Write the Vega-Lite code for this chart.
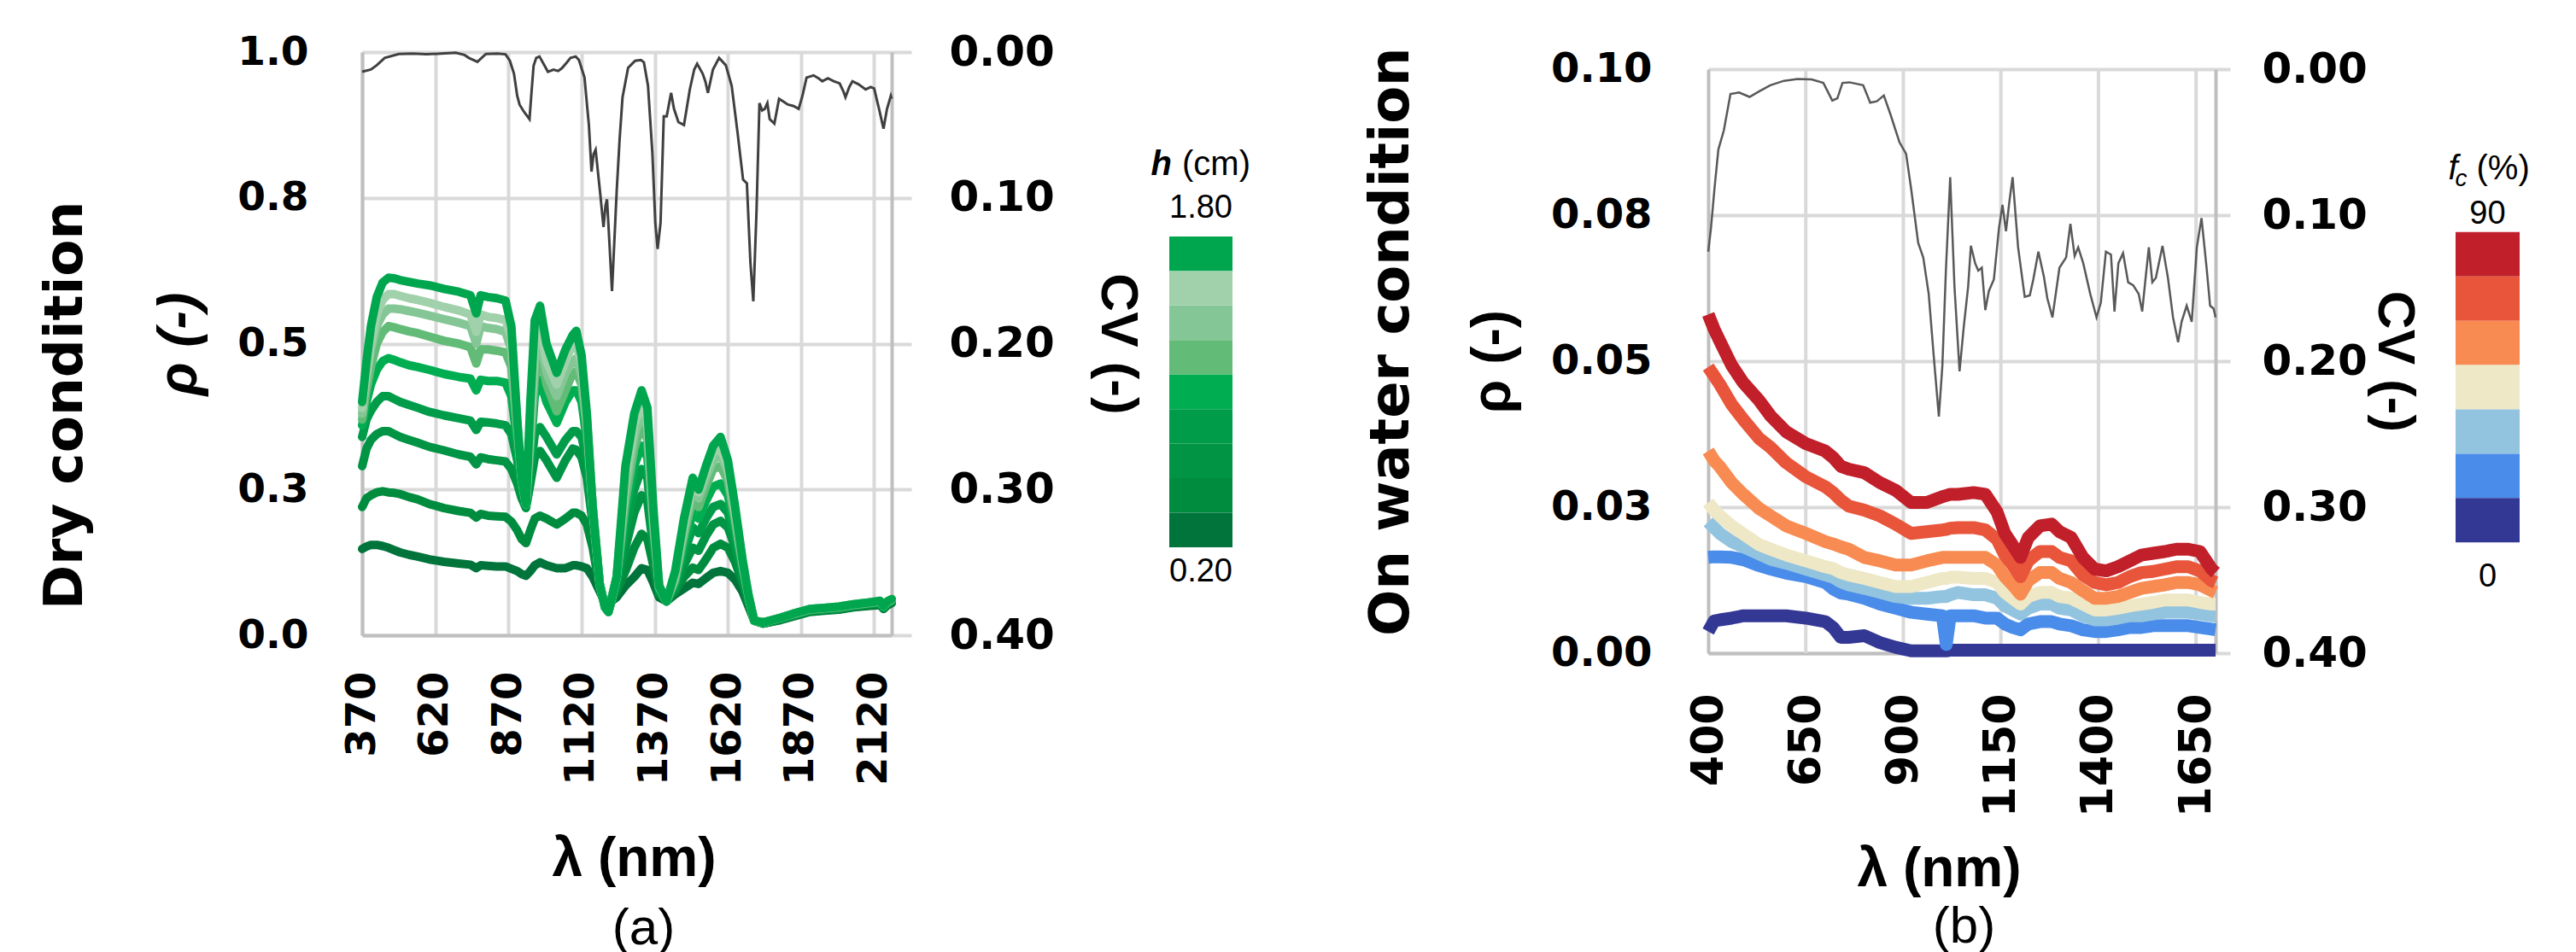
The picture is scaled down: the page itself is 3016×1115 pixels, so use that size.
{
"$schema": "https://vega.github.io/schema/vega-lite/v6.json",
"background": "white",
"padding": {"left": 45, "top": 36, "right": 0, "bottom": 0},
"autosize": {"type": "pad"},
"config": {
  "view": {"stroke": null},
  "axis": {"domainColor": "#BFBFBF", "domainWidth": 4, "gridColor": "#D9D9D9", "gridWidth": 4, "tickColor": "#D9D9D9", "tickWidth": 4,
           "labelFont": "DejaVu Sans", "labelFontWeight": "bold", "labelColor": "#000000", "labelFlush": false, "labelOverlap": false,
           "titleFont": "Liberation Sans", "titleFontWeight": "bold", "titleColor": "#000000"},
  "title": {"color": "#000000"}
},
"datasets": {
  "specA": [
    {"w":370,"a1":0.40,"a2":0.39,"a3":0.38,"a4":0.37,"a5":0.36,"a6":0.34,"a7":0.29,"a8":0.22,"a9":0.148},
    {"w":385,"a1":0.47,"a2":0.45,"a3":0.44,"a4":0.42,"a5":0.40,"a6":0.37,"a7":0.32,"a8":0.235,"a9":0.152},
    {"w":400,"a1":0.53,"a2":0.50,"a3":0.49,"a4":0.46,"a5":0.43,"a6":0.385,"a7":0.335,"a8":0.24,"a9":0.155},
    {"w":420,"a1":0.58,"a2":0.55,"a3":0.53,"a4":0.50,"a5":0.455,"a6":0.40,"a7":0.345,"a8":0.245,"a9":0.155},
    {"w":440,"a1":0.605,"a2":0.575,"a3":0.55,"a4":0.52,"a5":0.47,"a6":0.41,"a7":0.35,"a8":0.247,"a9":0.153},
    {"w":460,"a1":0.613,"a2":0.585,"a3":0.56,"a4":0.53,"a5":0.475,"a6":0.41,"a7":0.35,"a8":0.245,"a9":0.15},
    {"w":480,"a1":0.612,"a2":0.585,"a3":0.56,"a4":0.528,"a5":0.472,"a6":0.405,"a7":0.345,"a8":0.244,"a9":0.146},
    {"w":500,"a1":0.609,"a2":0.582,"a3":0.559,"a4":0.525,"a5":0.468,"a6":0.40,"a7":0.34,"a8":0.242,"a9":0.142},
    {"w":530,"a1":0.606,"a2":0.578,"a3":0.556,"a4":0.521,"a5":0.463,"a6":0.395,"a7":0.335,"a8":0.237,"a9":0.138},
    {"w":560,"a1":0.603,"a2":0.575,"a3":0.553,"a4":0.518,"a5":0.46,"a6":0.39,"a7":0.33,"a8":0.233,"a9":0.135},
    {"w":600,"a1":0.60,"a2":0.57,"a3":0.548,"a4":0.512,"a5":0.455,"a6":0.383,"a7":0.323,"a8":0.225,"a9":0.13},
    {"w":650,"a1":0.594,"a2":0.563,"a3":0.542,"a4":0.505,"a5":0.448,"a6":0.377,"a7":0.317,"a8":0.218,"a9":0.126},
    {"w":700,"a1":0.589,"a2":0.557,"a3":0.536,"a4":0.50,"a5":0.443,"a6":0.372,"a7":0.31,"a8":0.213,"a9":0.123},
    {"w":740,"a1":0.583,"a2":0.55,"a3":0.53,"a4":0.494,"a5":0.44,"a6":0.368,"a7":0.306,"a8":0.21,"a9":0.121},
    {"w":760,"a1":0.552,"a2":0.52,"a3":0.50,"a4":0.466,"a5":0.42,"a6":0.352,"a7":0.293,"a8":0.202,"a9":0.115},
    {"w":775,"a1":0.583,"a2":0.55,"a3":0.53,"a4":0.49,"a5":0.438,"a6":0.366,"a7":0.305,"a8":0.208,"a9":0.12},
    {"w":800,"a1":0.58,"a2":0.546,"a3":0.527,"a4":0.49,"a5":0.436,"a6":0.365,"a7":0.302,"a8":0.205,"a9":0.119},
    {"w":830,"a1":0.578,"a2":0.544,"a3":0.525,"a4":0.488,"a5":0.436,"a6":0.363,"a7":0.30,"a8":0.204,"a9":0.118},
    {"w":860,"a1":0.574,"a2":0.54,"a3":0.52,"a4":0.485,"a5":0.433,"a6":0.36,"a7":0.298,"a8":0.203,"a9":0.118},
    {"w":880,"a1":0.53,"a2":0.51,"a3":0.49,"a4":0.46,"a5":0.41,"a6":0.345,"a7":0.285,"a8":0.195,"a9":0.114},
    {"w":900,"a1":0.37,"a2":0.37,"a3":0.36,"a4":0.35,"a5":0.33,"a6":0.30,"a7":0.26,"a8":0.18,"a9":0.11},
    {"w":915,"a1":0.27,"a2":0.27,"a3":0.27,"a4":0.27,"a5":0.26,"a6":0.25,"a7":0.235,"a8":0.165,"a9":0.105},
    {"w":930,"a1":0.225,"a2":0.225,"a3":0.225,"a4":0.225,"a5":0.225,"a6":0.222,"a7":0.218,"a8":0.158,"a9":0.102},
    {"w":945,"a1":0.40,"a2":0.37,"a3":0.35,"a4":0.33,"a5":0.31,"a6":0.28,"a7":0.26,"a8":0.18,"a9":0.11},
    {"w":960,"a1":0.54,"a2":0.50,"a3":0.47,"a4":0.44,"a5":0.41,"a6":0.345,"a7":0.305,"a8":0.20,"a9":0.12},
    {"w":978,"a1":0.565,"a2":0.53,"a3":0.51,"a4":0.485,"a5":0.438,"a6":0.357,"a7":0.316,"a8":0.205,"a9":0.125},
    {"w":1000,"a1":0.50,"a2":0.47,"a3":0.45,"a4":0.43,"a5":0.40,"a6":0.34,"a7":0.30,"a8":0.20,"a9":0.12},
    {"w":1035,"a1":0.45,"a2":0.43,"a3":0.41,"a4":0.384,"a5":0.364,"a6":0.31,"a7":0.27,"a8":0.19,"a9":0.115},
    {"w":1065,"a1":0.49,"a2":0.47,"a3":0.45,"a4":0.42,"a5":0.40,"a6":0.335,"a7":0.30,"a8":0.20,"a9":0.115},
    {"w":1090,"a1":0.515,"a2":0.50,"a3":0.47,"a4":0.45,"a5":0.42,"a6":0.35,"a7":0.32,"a8":0.21,"a9":0.12},
    {"w":1102,"a1":0.522,"a2":0.50,"a3":0.475,"a4":0.452,"a5":0.42,"a6":0.35,"a7":0.318,"a8":0.21,"a9":0.12},
    {"w":1120,"a1":0.48,"a2":0.465,"a3":0.445,"a4":0.43,"a5":0.40,"a6":0.34,"a7":0.305,"a8":0.205,"a9":0.118},
    {"w":1138,"a1":0.38,"a2":0.375,"a3":0.365,"a4":0.355,"a5":0.335,"a6":0.30,"a7":0.27,"a8":0.19,"a9":0.115},
    {"w":1158,"a1":0.22,"a2":0.22,"a3":0.22,"a4":0.22,"a5":0.21,"a6":0.20,"a7":0.19,"a8":0.15,"a9":0.10},
    {"w":1182,"a1":0.088,"a2":0.088,"a3":0.088,"a4":0.088,"a5":0.088,"a6":0.088,"a7":0.085,"a8":0.08,"a9":0.075},
    {"w":1200,"a1":0.048,"a2":0.048,"a3":0.048,"a4":0.048,"a5":0.048,"a6":0.048,"a7":0.048,"a8":0.052,"a9":0.056},
    {"w":1212,"a1":0.04,"a2":0.04,"a3":0.04,"a4":0.04,"a5":0.04,"a6":0.04,"a7":0.042,"a8":0.048,"a9":0.055},
    {"w":1240,"a1":0.10,"a2":0.10,"a3":0.10,"a4":0.10,"a5":0.095,"a6":0.09,"a7":0.085,"a8":0.075,"a9":0.065},
    {"w":1270,"a1":0.29,"a2":0.27,"a3":0.25,"a4":0.23,"a5":0.21,"a6":0.18,"a7":0.15,"a8":0.11,"a9":0.085},
    {"w":1300,"a1":0.38,"a2":0.36,"a3":0.34,"a4":0.32,"a5":0.29,"a6":0.25,"a7":0.21,"a8":0.15,"a9":0.10},
    {"w":1325,"a1":0.42,"a2":0.40,"a3":0.385,"a4":0.36,"a5":0.325,"a6":0.285,"a7":0.24,"a8":0.174,"a9":0.115},
    {"w":1345,"a1":0.39,"a2":0.37,"a3":0.355,"a4":0.335,"a5":0.305,"a6":0.27,"a7":0.23,"a8":0.165,"a9":0.112},
    {"w":1365,"a1":0.22,"a2":0.21,"a3":0.20,"a4":0.19,"a5":0.18,"a6":0.165,"a7":0.15,"a8":0.12,"a9":0.09},
    {"w":1385,"a1":0.085,"a2":0.085,"a3":0.085,"a4":0.082,"a5":0.08,"a6":0.078,"a7":0.075,"a8":0.07,"a9":0.065},
    {"w":1410,"a1":0.058,"a2":0.058,"a3":0.058,"a4":0.058,"a5":0.058,"a6":0.058,"a7":0.058,"a8":0.058,"a9":0.058},
    {"w":1440,"a1":0.11,"a2":0.105,"a3":0.10,"a4":0.095,"a5":0.09,"a6":0.085,"a7":0.08,"a8":0.075,"a9":0.07},
    {"w":1470,"a1":0.20,"a2":0.19,"a3":0.18,"a4":0.17,"a5":0.155,"a6":0.14,"a7":0.12,"a8":0.10,"a9":0.08},
    {"w":1500,"a1":0.27,"a2":0.26,"a3":0.25,"a4":0.235,"a5":0.21,"a6":0.185,"a7":0.15,"a8":0.116,"a9":0.09},
    {"w":1520,"a1":0.25,"a2":0.245,"a3":0.235,"a4":0.22,"a5":0.20,"a6":0.175,"a7":0.145,"a8":0.112,"a9":0.088},
    {"w":1545,"a1":0.29,"a2":0.28,"a3":0.27,"a4":0.255,"a5":0.23,"a6":0.20,"a7":0.17,"a8":0.13,"a9":0.098},
    {"w":1570,"a1":0.325,"a2":0.315,"a3":0.30,"a4":0.285,"a5":0.255,"a6":0.22,"a7":0.19,"a8":0.15,"a9":0.107},
    {"w":1595,"a1":0.34,"a2":0.32,"a3":0.31,"a4":0.29,"a5":0.26,"a6":0.225,"a7":0.196,"a8":0.157,"a9":0.11},
    {"w":1620,"a1":0.30,"a2":0.29,"a3":0.28,"a4":0.265,"a5":0.24,"a6":0.21,"a7":0.185,"a8":0.15,"a9":0.107},
    {"w":1645,"a1":0.22,"a2":0.21,"a3":0.205,"a4":0.195,"a5":0.18,"a6":0.165,"a7":0.15,"a8":0.125,"a9":0.095},
    {"w":1670,"a1":0.13,"a2":0.13,"a3":0.125,"a4":0.12,"a5":0.115,"a6":0.11,"a7":0.10,"a8":0.09,"a9":0.075},
    {"w":1690,"a1":0.07,"a2":0.07,"a3":0.07,"a4":0.068,"a5":0.066,"a6":0.064,"a7":0.06,"a8":0.055,"a9":0.05},
    {"w":1710,"a1":0.025,"a2":0.025,"a3":0.025,"a4":0.025,"a5":0.025,"a6":0.025,"a7":0.025,"a8":0.025,"a9":0.025},
    {"w":1740,"a1":0.022,"a2":0.022,"a3":0.022,"a4":0.022,"a5":0.022,"a6":0.021,"a7":0.021,"a8":0.02,"a9":0.02},
    {"w":1800,"a1":0.03,"a2":0.03,"a3":0.03,"a4":0.03,"a5":0.03,"a6":0.029,"a7":0.028,"a8":0.027,"a9":0.026},
    {"w":1850,"a1":0.038,"a2":0.038,"a3":0.038,"a4":0.037,"a5":0.037,"a6":0.036,"a7":0.035,"a8":0.034,"a9":0.033},
    {"w":1900,"a1":0.045,"a2":0.045,"a3":0.045,"a4":0.044,"a5":0.044,"a6":0.043,"a7":0.042,"a8":0.041,"a9":0.04},
    {"w":1950,"a1":0.047,"a2":0.047,"a3":0.047,"a4":0.046,"a5":0.046,"a6":0.045,"a7":0.044,"a8":0.043,"a9":0.042},
    {"w":2000,"a1":0.049,"a2":0.049,"a3":0.049,"a4":0.048,"a5":0.048,"a6":0.047,"a7":0.046,"a8":0.045,"a9":0.044},
    {"w":2050,"a1":0.053,"a2":0.053,"a3":0.053,"a4":0.052,"a5":0.052,"a6":0.051,"a7":0.05,"a8":0.049,"a9":0.048},
    {"w":2100,"a1":0.056,"a2":0.056,"a3":0.056,"a4":0.055,"a5":0.055,"a6":0.054,"a7":0.053,"a8":0.052,"a9":0.05},
    {"w":2140,"a1":0.059,"a2":0.059,"a3":0.058,"a4":0.058,"a5":0.057,"a6":0.056,"a7":0.055,"a8":0.054,"a9":0.052},
    {"w":2152,"a1":0.05,"a2":0.05,"a3":0.05,"a4":0.05,"a5":0.049,"a6":0.048,"a7":0.047,"a8":0.046,"a9":0.045},
    {"w":2165,"a1":0.058,"a2":0.058,"a3":0.057,"a4":0.057,"a5":0.056,"a6":0.055,"a7":0.054,"a8":0.053,"a9":0.051},
    {"w":2180,"a1":0.062,"a2":0.062,"a3":0.061,"a4":0.061,"a5":0.06,"a6":0.059,"a7":0.058,"a8":0.057,"a9":0.055}
  ],
  "cvA": [
    {"w":370,"cv":0.0135},{"w":400,"cv":0.012},{"w":420,"cv":0.009},{"w":447,"cv":0.004},{"w":495,"cv":0.0013},{"w":543,"cv":0.001},{"w":590,"cv":0.0015},{"w":640,"cv":0.001},{"w":690,"cv":0.0005},{"w":720,"cv":0.002},{"w":735,"cv":0.004},{"w":764,"cv":0.0067},{"w":793,"cv":0.0013},{"w":832,"cv":0.001},{"w":860,"cv":0.0015},{"w":875,"cv":0.006},{"w":889,"cv":0.0148},{"w":900,"cv":0.03},{"w":908,"cv":0.036},{"w":920,"cv":0.04},{"w":927,"cv":0.042},{"w":942,"cv":0.046},{"w":948,"cv":0.03},{"w":956,"cv":0.0094},{"w":965,"cv":0.004},{"w":976,"cv":0.003},{"w":990,"cv":0.008},{"w":1005,"cv":0.0135},{"w":1024,"cv":0.012},{"w":1040,"cv":0.013},{"w":1053,"cv":0.011},{"w":1070,"cv":0.007},{"w":1082,"cv":0.004},{"w":1100,"cv":0.003},{"w":1111,"cv":0.0054},{"w":1130,"cv":0.0175},{"w":1145,"cv":0.05},{"w":1154,"cv":0.082},{"w":1161,"cv":0.07},{"w":1168,"cv":0.067},{"w":1183,"cv":0.0956},{"w":1195,"cv":0.12},{"w":1202,"cv":0.105},{"w":1207,"cv":0.101},{"w":1215,"cv":0.13},{"w":1224,"cv":0.164},{"w":1232,"cv":0.13},{"w":1240,"cv":0.0956},{"w":1250,"cv":0.06},{"w":1260,"cv":0.031},{"w":1279,"cv":0.0108},{"w":1293,"cv":0.008},{"w":1303,"cv":0.006},{"w":1323,"cv":0.0054},{"w":1333,"cv":0.007},{"w":1347,"cv":0.023},{"w":1362,"cv":0.069},{"w":1372,"cv":0.117},{"w":1380,"cv":0.135},{"w":1390,"cv":0.117},{"w":1401,"cv":0.044},{"w":1411,"cv":0.044},{"w":1426,"cv":0.028},{"w":1436,"cv":0.039},{"w":1451,"cv":0.048},{"w":1470,"cv":0.05},{"w":1490,"cv":0.0256},{"w":1505,"cv":0.012},{"w":1515,"cv":0.008},{"w":1534,"cv":0.0148},{"w":1543,"cv":0.02},{"w":1552,"cv":0.028},{"w":1569,"cv":0.012},{"w":1590,"cv":0.004},{"w":1613,"cv":0.009},{"w":1633,"cv":0.023},{"w":1653,"cv":0.055},{"w":1672,"cv":0.0875},{"w":1685,"cv":0.09},{"w":1697,"cv":0.144},{"w":1707,"cv":0.171},{"w":1718,"cv":0.109},{"w":1728,"cv":0.035},{"w":1737,"cv":0.04},{"w":1746,"cv":0.039},{"w":1755,"cv":0.035},{"w":1763,"cv":0.046},{"w":1779,"cv":0.049},{"w":1795,"cv":0.032},{"w":1810,"cv":0.034},{"w":1825,"cv":0.036},{"w":1845,"cv":0.037},{"w":1862,"cv":0.039},{"w":1875,"cv":0.03},{"w":1889,"cv":0.0175},{"w":1913,"cv":0.016},{"w":1930,"cv":0.018},{"w":1943,"cv":0.02},{"w":1962,"cv":0.018},{"w":1982,"cv":0.02},{"w":2002,"cv":0.0215},{"w":2015,"cv":0.027},{"w":2022,"cv":0.031},{"w":2035,"cv":0.024},{"w":2046,"cv":0.02},{"w":2066,"cv":0.022},{"w":2091,"cv":0.0256},{"w":2108,"cv":0.024},{"w":2120,"cv":0.025},{"w":2138,"cv":0.04},{"w":2152,"cv":0.0525},{"w":2164,"cv":0.039},{"w":2177,"cv":0.03},{"w":2180,"cv":0.032}
  ],
  "specB": [
    {"w":400,"b90":0.058,"b75":0.049,"b60":0.0346,"b45":0.0258,"b30":0.0225,"b15":0.0164,"b0":0.0037},
    {"w":415,"b90":0.0555,"b75":0.0475,"b60":0.033,"b45":0.0245,"b30":0.0215,"b15":0.0165,"b0":0.0055},
    {"w":430,"b90":0.0534,"b75":0.046,"b60":0.0319,"b45":0.0235,"b30":0.0205,"b15":0.0165,"b0":0.0057},
    {"w":460,"b90":0.0493,"b75":0.0426,"b60":0.0292,"b45":0.0218,"b30":0.0191,"b15":0.0164,"b0":0.006},
    {"w":490,"b90":0.0463,"b75":0.040,"b60":0.0272,"b45":0.0204,"b30":0.0182,"b15":0.016,"b0":0.0064},
    {"w":530,"b90":0.0433,"b75":0.0368,"b60":0.0248,"b45":0.0186,"b30":0.017,"b15":0.015,"b0":0.0064},
    {"w":560,"b90":0.0406,"b75":0.0352,"b60":0.0235,"b45":0.0178,"b30":0.0161,"b15":0.0144,"b0":0.0064},
    {"w":600,"b90":0.0379,"b75":0.0326,"b60":0.0218,"b45":0.0168,"b30":0.0154,"b15":0.0137,"b0":0.0064},
    {"w":650,"b90":0.0359,"b75":0.0302,"b60":0.0205,"b45":0.0158,"b30":0.0144,"b15":0.0131,"b0":0.006},
    {"w":700,"b90":0.0346,"b75":0.0285,"b60":0.0191,"b45":0.0148,"b30":0.0134,"b15":0.0121,"b0":0.0054},
    {"w":720,"b90":0.0335,"b75":0.0275,"b60":0.0187,"b45":0.0145,"b30":0.013,"b15":0.011,"b0":0.0044},
    {"w":740,"b90":0.032,"b75":0.0262,"b60":0.0182,"b45":0.0138,"b30":0.0122,"b15":0.0103,"b0":0.0027},
    {"w":760,"b90":0.0315,"b75":0.0252,"b60":0.0178,"b45":0.0134,"b30":0.0117,"b15":0.0101,"b0":0.0027},
    {"w":800,"b90":0.0309,"b75":0.0245,"b60":0.0164,"b45":0.0128,"b30":0.0111,"b15":0.0094,"b0":0.003},
    {"w":840,"b90":0.0292,"b75":0.0235,"b60":0.0158,"b45":0.0121,"b30":0.0104,"b15":0.0084,"b0":0.0018},
    {"w":880,"b90":0.0279,"b75":0.0221,"b60":0.0151,"b45":0.0114,"b30":0.0097,"b15":0.0077,"b0":0.001},
    {"w":920,"b90":0.0258,"b75":0.0205,"b60":0.0151,"b45":0.0114,"b30":0.0094,"b15":0.007,"b0":0.0004},
    {"w":960,"b90":0.0258,"b75":0.0208,"b60":0.0158,"b45":0.0121,"b30":0.0094,"b15":0.0067,"b0":0.0004},
    {"w":1000,"b90":0.0268,"b75":0.0211,"b60":0.0164,"b45":0.0128,"b30":0.0097,"b15":0.0064,"b0":0.0004},
    {"w":1010,"b90":0.027,"b75":0.0212,"b60":0.0164,"b45":0.0128,"b30":0.0097,"b15":0.0015,"b0":0.0004},
    {"w":1020,"b90":0.0272,"b75":0.0214,"b60":0.0164,"b45":0.013,"b30":0.01,"b15":0.0064,"b0":0.0005},
    {"w":1040,"b90":0.0272,"b75":0.0215,"b60":0.0164,"b45":0.013,"b30":0.0104,"b15":0.0064,"b0":0.0005},
    {"w":1080,"b90":0.0275,"b75":0.0215,"b60":0.0164,"b45":0.0128,"b30":0.01,"b15":0.0064,"b0":0.0005},
    {"w":1110,"b90":0.0272,"b75":0.0211,"b60":0.0164,"b45":0.0128,"b30":0.01,"b15":0.006,"b0":0.0005},
    {"w":1140,"b90":0.0242,"b75":0.0195,"b60":0.0151,"b45":0.0121,"b30":0.0094,"b15":0.006,"b0":0.0005},
    {"w":1160,"b90":0.0205,"b75":0.0168,"b60":0.0131,"b45":0.0104,"b30":0.0081,"b15":0.005,"b0":0.0005},
    {"w":1180,"b90":0.0185,"b75":0.0151,"b60":0.0117,"b45":0.0094,"b30":0.0074,"b15":0.0044,"b0":0.0005},
    {"w":1200,"b90":0.0164,"b75":0.0131,"b60":0.0101,"b45":0.0084,"b30":0.0067,"b15":0.004,"b0":0.0005},
    {"w":1220,"b90":0.0198,"b75":0.0158,"b60":0.0124,"b45":0.0097,"b30":0.0077,"b15":0.005,"b0":0.0005},
    {"w":1250,"b90":0.0218,"b75":0.0174,"b60":0.0138,"b45":0.0104,"b30":0.0084,"b15":0.0054,"b0":0.0005},
    {"w":1280,"b90":0.0221,"b75":0.0174,"b60":0.0138,"b45":0.0104,"b30":0.0084,"b15":0.0054,"b0":0.0005},
    {"w":1300,"b90":0.0208,"b75":0.0164,"b60":0.0128,"b45":0.0097,"b30":0.0077,"b15":0.005,"b0":0.0005},
    {"w":1330,"b90":0.0198,"b75":0.0158,"b60":0.0121,"b45":0.0094,"b30":0.0074,"b15":0.0047,"b0":0.0005},
    {"w":1360,"b90":0.0164,"b75":0.0134,"b60":0.0107,"b45":0.0084,"b30":0.0064,"b15":0.004,"b0":0.0005},
    {"w":1390,"b90":0.0144,"b75":0.0121,"b60":0.0094,"b45":0.0074,"b30":0.0057,"b15":0.0037,"b0":0.0005},
    {"w":1420,"b90":0.0141,"b75":0.0117,"b60":0.0094,"b45":0.0074,"b30":0.0057,"b15":0.0037,"b0":0.0005},
    {"w":1450,"b90":0.0148,"b75":0.0121,"b60":0.0097,"b45":0.0077,"b30":0.006,"b15":0.004,"b0":0.0005},
    {"w":1480,"b90":0.0158,"b75":0.0131,"b60":0.0104,"b45":0.0081,"b30":0.0064,"b15":0.0044,"b0":0.0005},
    {"w":1510,"b90":0.0168,"b75":0.0138,"b60":0.0111,"b45":0.0084,"b30":0.0064,"b15":0.0044,"b0":0.0005},
    {"w":1540,"b90":0.0171,"b75":0.014,"b60":0.0114,"b45":0.0087,"b30":0.0067,"b15":0.0047,"b0":0.0005},
    {"w":1570,"b90":0.0174,"b75":0.0144,"b60":0.0117,"b45":0.0091,"b30":0.007,"b15":0.0047,"b0":0.0005},
    {"w":1600,"b90":0.0178,"b75":0.0148,"b60":0.0121,"b45":0.0091,"b30":0.007,"b15":0.0047,"b0":0.0005},
    {"w":1630,"b90":0.0178,"b75":0.0148,"b60":0.0121,"b45":0.0091,"b30":0.007,"b15":0.0047,"b0":0.0005},
    {"w":1660,"b90":0.0174,"b75":0.0141,"b60":0.0117,"b45":0.0087,"b30":0.0067,"b15":0.0044,"b0":0.0005},
    {"w":1690,"b90":0.0144,"b75":0.0124,"b60":0.0107,"b45":0.0084,"b30":0.0064,"b15":0.0041,"b0":0.0005},
    {"w":1700,"b90":0.0138,"b75":0.0121,"b60":0.0104,"b45":0.0084,"b30":0.0064,"b15":0.004,"b0":0.0005}
  ],
  "cvB": [
    {"w":400,"cv":0.125},{"w":407,"cv":0.109},{"w":416,"cv":0.082},{"w":426,"cv":0.055},{"w":440,"cv":0.042},{"w":457,"cv":0.017},{"w":479,"cv":0.016},{"w":506,"cv":0.019},{"w":532,"cv":0.015},{"w":559,"cv":0.011},{"w":594,"cv":0.008},{"w":629,"cv":0.0067},{"w":665,"cv":0.007},{"w":695,"cv":0.0094},{"w":718,"cv":0.0215},{"w":731,"cv":0.02},{"w":744,"cv":0.0094},{"w":762,"cv":0.009},{"w":797,"cv":0.011},{"w":815,"cv":0.023},{"w":832,"cv":0.022},{"w":850,"cv":0.018},{"w":867,"cv":0.031},{"w":890,"cv":0.05},{"w":907,"cv":0.058},{"w":920,"cv":0.082},{"w":938,"cv":0.119},{"w":951,"cv":0.129},{"w":965,"cv":0.154},{"w":978,"cv":0.197},{"w":991,"cv":0.238},{"w":1000,"cv":0.203},{"w":1009,"cv":0.138},{"w":1020,"cv":0.074},{"w":1031,"cv":0.149},{"w":1044,"cv":0.207},{"w":1055,"cv":0.176},{"w":1066,"cv":0.149},{"w":1073,"cv":0.121},{"w":1084,"cv":0.133},{"w":1092,"cv":0.138},{"w":1101,"cv":0.136},{"w":1110,"cv":0.165},{"w":1119,"cv":0.152},{"w":1132,"cv":0.144},{"w":1145,"cv":0.109},{"w":1154,"cv":0.093},{"w":1163,"cv":0.111},{"w":1172,"cv":0.09},{"w":1180,"cv":0.074},{"w":1194,"cv":0.122},{"w":1211,"cv":0.156},{"w":1224,"cv":0.155},{"w":1233,"cv":0.144},{"w":1246,"cv":0.125},{"w":1260,"cv":0.142},{"w":1269,"cv":0.157},{"w":1282,"cv":0.17},{"w":1300,"cv":0.136},{"w":1317,"cv":0.129},{"w":1328,"cv":0.106},{"w":1339,"cv":0.128},{"w":1348,"cv":0.122},{"w":1361,"cv":0.133},{"w":1379,"cv":0.154},{"w":1395,"cv":0.17},{"w":1406,"cv":0.16},{"w":1419,"cv":0.125},{"w":1432,"cv":0.127},{"w":1441,"cv":0.166},{"w":1451,"cv":0.133},{"w":1463,"cv":0.126},{"w":1476,"cv":0.146},{"w":1489,"cv":0.148},{"w":1503,"cv":0.154},{"w":1512,"cv":0.166},{"w":1520,"cv":0.145},{"w":1529,"cv":0.122},{"w":1538,"cv":0.146},{"w":1547,"cv":0.143},{"w":1564,"cv":0.121},{"w":1578,"cv":0.143},{"w":1591,"cv":0.17},{"w":1604,"cv":0.187},{"w":1613,"cv":0.173},{"w":1626,"cv":0.162},{"w":1639,"cv":0.173},{"w":1652,"cv":0.122},{"w":1664,"cv":0.102},{"w":1677,"cv":0.136},{"w":1686,"cv":0.162},{"w":1695,"cv":0.164},{"w":1700,"cv":0.17}
  ],
  "gridB": [{"g":650},{"g":900},{"g":1150},{"g":1400},{"g":1650}],
  "legA": [
    {"row":"a1","part":"cell"},{"row":"a2","part":"cell"},{"row":"a3","part":"cell"},{"row":"a4","part":"cell"},{"row":"a5","part":"cell"},{"row":"a6","part":"cell"},{"row":"a7","part":"cell"},{"row":"a8","part":"cell"},{"row":"a9","part":"cell"},
    {"row":"u","part":"top","txt":"1.80"},
    {"row":"b","part":"bottom","txt":"0.20"},
    {"row":"t","part":"sym","txt":"h"},
    {"row":"t","part":"unit","txt":"(cm)"}
  ],
  "legB": [
    {"row":"b90","part":"cell"},{"row":"b75","part":"cell"},{"row":"b60","part":"cell"},{"row":"b45","part":"cell"},{"row":"b30","part":"cell"},{"row":"b15","part":"cell"},{"row":"b0","part":"cell"},
    {"row":"u","part":"top","txt":"90"},
    {"row":"b","part":"bottom","txt":"0"},
    {"row":"t","part":"sym","txt":"f"},
    {"row":"t","part":"sub","txt":"c"},
    {"row":"t","part":"unit","txt":"(%)"}
  ]
},
"spacing": 0,
"bounds": "flush",
"hconcat": [
  {
    "width": 620,
    "height": 683,
    "title": {"text": "Dry condition", "orient": "left", "anchor": "start", "frame": "group", "font": "DejaVu Sans", "fontSize": 63, "fontWeight": "bold", "offset": 70, "dx": 30},
    "layer": [
      {
        "data": {"name": "specA"},
        "transform": [{"fold": ["a9", "a8", "a7", "a6", "a5", "a4", "a3", "a2", "a1"], "as": ["key", "r"]}],
        "mark": {"type": "line", "strokeWidth": 10, "strokeJoin": "round", "strokeCap": "round"},
        "encoding": {
          "x": {"field": "w", "type": "quantitative", "scale": {"domain": [370, 2180], "nice": false, "zero": false},
                "axis": {"values": [370, 620, 870, 1120, 1370, 1620, 1870, 2120], "format": "d", "labelAngle": -90, "labelFontSize": 48, "labelPadding": 42, "ticks": false, "tickSize": 0,
                         "title": "λ (nm)", "titleFontSize": 64, "titlePadding": 55, "titleX": 318, "grid": true}},
          "y": {"field": "r", "type": "quantitative", "scale": {"domain": [0, 1], "nice": false},
                "axis": {"values": [0, 0.25, 0.5, 0.75, 1], "labelExpr": "format(datum.value + 1e-9, '.1f')", "labelFontSize": 47, "labelPadding": 63, "ticks": false, "tickSize": 0,
                         "title": "ρ (-)", "titleFontSize": 64, "titleFontStyle": "italic", "titlePadding": 35, "grid": true}},
          "color": {"field": "key", "type": "nominal", "legend": null,
                    "scale": {"domain": ["a1","a2","a3","a4","a5","a6","a7","a8","a9","b90","b75","b60","b45","b30","b15","b0"],
                              "range": ["#00A64E","#A1D1AB","#85C696","#62BB77","#00AE51","#009C4A","#009444","#008C3F","#00743A","#C1202B","#E8553A","#F88B51","#EEE8C6","#92C3DF","#4A8CEA","#343895"]}}
        }
      },
      {
        "data": {"name": "cvA"},
        "mark": {"type": "line", "color": "#404040", "strokeWidth": 3},
        "encoding": {
          "x": {"field": "w", "type": "quantitative",
                "axis": {"orient": "bottom", "labels": false, "ticks": false, "domain": false, "grid": false,
                         "title": "(a)", "titleFontWeight": "normal", "titleFontSize": 60, "titlePadding": 314, "titleX": 329}},
          "y": {"field": "cv", "type": "quantitative", "scale": {"domain": [0, 0.4], "reverse": true, "nice": false},
                "axis": {"orient": "right", "values": [0, 0.1, 0.2, 0.3, 0.4], "format": ".2f", "labelFontSize": 50, "tickSize": 23, "labelPadding": 44,
                         "title": "CV (-)", "titleFontSize": 62, "titlePadding": 42, "grid": false}}
        }
      }
    ],
    "resolve": {"scale": {"y": "independent"}, "axis": {"x": "independent"}}
  },
  {"width": 325, "height": 1, "data": {"values": []}, "mark": "point"},
  {
    "width": 74,
    "height": 683,
    "data": {"name": "legA"},
    "encoding": {
      "y": {"field": "row", "type": "nominal", "axis": null,
            "scale": {"domain": ["d1","d2","d3","t","u","a1","a2","a3","a4","a5","a6","a7","a8","a9","b","d4"], "paddingInner": 0, "paddingOuter": 0.445, "align": 0.383}}
    },
    "layer": [
      {"transform": [{"filter": "datum.part == 'cell'"}], "mark": {"type": "rect"},
       "encoding": {"color": {"field": "row", "type": "nominal", "legend": null}}},
      {"transform": [{"filter": "datum.part == 'top'"}], "mark": {"type": "text", "font": "Liberation Sans", "fontSize": 38, "dy": -13, "color": "#000000"},
       "encoding": {"text": {"field": "txt"}}},
      {"transform": [{"filter": "datum.part == 'bottom'"}], "mark": {"type": "text", "font": "Liberation Sans", "fontSize": 38, "dy": 9, "color": "#000000"},
       "encoding": {"text": {"field": "txt"}}},
      {"transform": [{"filter": "datum.part == 'sym'"}], "mark": {"type": "text", "font": "Liberation Sans", "fontSize": 40, "fontWeight": "bold", "fontStyle": "italic", "align": "right", "dx": -34, "dy": -23, "color": "#000000"},
       "encoding": {"text": {"field": "txt"}}},
      {"transform": [{"filter": "datum.part == 'unit'"}], "mark": {"type": "text", "font": "Liberation Sans", "fontSize": 40, "align": "left", "dx": -22, "dy": -23, "color": "#000000"},
       "encoding": {"text": {"field": "txt"}}}
    ]
  },
  {"width": 557, "height": 1, "data": {"values": []}, "mark": "point"},
  {
    "width": 594,
    "height": 704,
    "title": {"text": "On water condition", "orient": "left", "anchor": "start", "frame": "group", "font": "DejaVu Sans", "fontSize": 64, "fontWeight": "bold", "offset": 55, "dx": 20},
    "layer": [
      {
        "data": {"name": "gridB"},
        "mark": {"type": "rule", "color": "#D9D9D9", "strokeWidth": 4},
        "encoding": {
          "x": {"field": "g", "type": "quantitative", "axis": null},
          "y": {"datum": 0, "scale": {"domain": [0, 0.1], "range": [704, 20], "nice": false}, "axis": null},
          "y2": {"datum": 0.1}
        }
      },
      {
        "data": {"name": "specB"},
        "transform": [{"fold": ["b0", "b15", "b30", "b45", "b60", "b75", "b90"], "as": ["key", "r"]}],
        "mark": {"type": "line", "strokeWidth": 15, "strokeJoin": "round", "strokeCap": "butt"},
        "encoding": {
          "x": {"field": "w", "type": "quantitative", "scale": {"domain": [400, 1700], "nice": false, "zero": false},
                "axis": {"values": [400, 650, 900, 1150, 1400, 1650], "format": "d", "labelAngle": -90, "labelFontSize": 52, "labelPadding": 47, "ticks": false, "tickSize": 0,
                         "title": "λ (nm)", "titleFontSize": 64, "titlePadding": 30, "titleX": 270, "grid": false}},
          "y": {"field": "r", "type": "quantitative", "scale": {"domain": [0, 0.1], "range": [704, 20], "nice": false},
                "axis": {"values": [0, 0.025, 0.05, 0.075, 0.1], "labelExpr": "format(datum.value + 1e-9, '.2f')", "labelFontSize": 48, "labelPadding": 66, "ticks": false, "tickSize": 0,
                         "title": "ρ (-)", "titleFontSize": 64, "titlePadding": 35, "grid": true}},
          "color": {"field": "key", "type": "nominal", "legend": null}
        }
      },
      {
        "data": {"name": "cvB"},
        "mark": {"type": "line", "color": "#595959", "strokeWidth": 2.5},
        "encoding": {
          "x": {"field": "w", "type": "quantitative",
                "axis": {"orient": "bottom", "labels": false, "ticks": false, "domain": false, "grid": false,
                         "title": "(b)", "titleFontWeight": "normal", "titleFontSize": 60, "titlePadding": 291, "titleX": 299}},
          "y": {"field": "cv", "type": "quantitative", "scale": {"domain": [0, 0.4], "range": [20, 704], "nice": false},
                "axis": {"orient": "right", "values": [0, 0.1, 0.2, 0.3, 0.4], "format": ".2f", "labelFontSize": 50, "tickSize": 17, "labelPadding": 37,
                         "title": "CV (-)", "titleFontSize": 62, "titlePadding": 0, "grid": false}}
        }
      }
    ],
    "resolve": {"scale": {"y": "independent"}, "axis": {"x": "independent"}}
  },
  {"width": 281, "height": 1, "data": {"values": []}, "mark": "point"},
  {
    "width": 75,
    "height": 704,
    "data": {"name": "legB"},
    "encoding": {
      "y": {"field": "row", "type": "nominal", "axis": null,
            "scale": {"domain": ["d1","d2","t","u","b90","b75","b60","b45","b30","b15","b0","b","d3"], "paddingInner": 0, "paddingOuter": 0.28, "align": 0.11}}
    },
    "layer": [
      {"transform": [{"filter": "datum.part == 'cell'"}], "mark": {"type": "rect"},
       "encoding": {"color": {"field": "row", "type": "nominal", "legend": null}}},
      {"transform": [{"filter": "datum.part == 'top'"}], "mark": {"type": "text", "font": "Liberation Sans", "fontSize": 38, "dy": 5, "color": "#000000"},
       "encoding": {"text": {"field": "txt"}}},
      {"transform": [{"filter": "datum.part == 'bottom'"}], "mark": {"type": "text", "font": "Liberation Sans", "fontSize": 38, "dy": 15, "color": "#000000"},
       "encoding": {"text": {"field": "txt"}}},
      {"transform": [{"filter": "datum.part == 'sym'"}], "mark": {"type": "text", "font": "Liberation Sans", "fontSize": 40, "fontStyle": "italic", "align": "right", "dx": -35, "dy": 4, "color": "#000000"},
       "encoding": {"text": {"field": "txt"}}},
      {"transform": [{"filter": "datum.part == 'sub'"}], "mark": {"type": "text", "font": "Liberation Sans", "fontSize": 28, "fontStyle": "italic", "align": "left", "dx": -38, "dy": 16, "color": "#000000"},
       "encoding": {"text": {"field": "txt"}}},
      {"transform": [{"filter": "datum.part == 'unit'"}], "mark": {"type": "text", "font": "Liberation Sans", "fontSize": 40, "align": "left", "dx": -13, "dy": 4, "color": "#000000"},
       "encoding": {"text": {"field": "txt"}}}
    ]
  }
]
}
